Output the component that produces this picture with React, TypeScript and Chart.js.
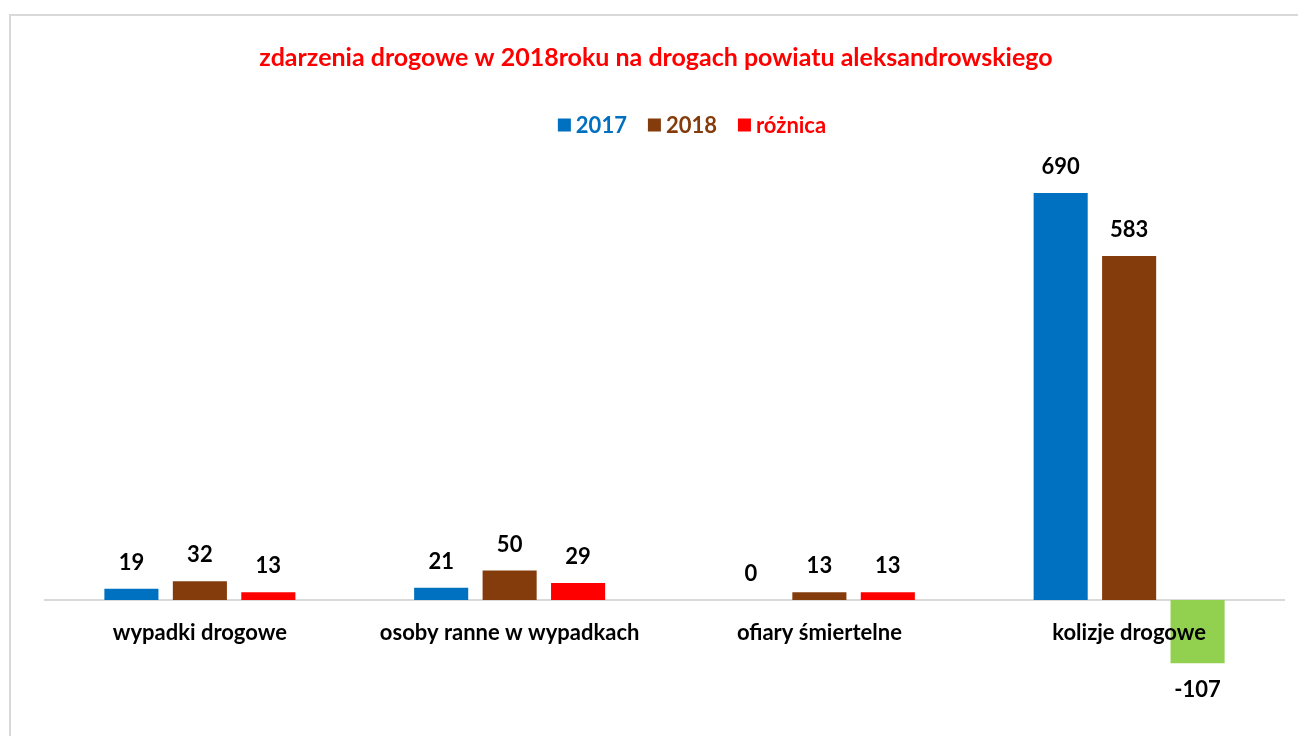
import React, { useEffect, useRef } from "react";
import { Chart, registerables } from "chart.js";

Chart.register(...registerables);

const TITLE = "zdarzenia drogowe w 2018roku na drogach powiatu aleksandrowskiego";
const categories = ["wypadki drogowe", "osoby ranne w wypadkach", "ofiary śmiertelne", "kolizje drogowe"];
const seriesNames = ["2017", "2018", "różnica"];
const values2017 = [19, 21, 0, 690];
const values2018 = [32, 50, 13, 583];
const valuesDiff = [13, 29, 13, -107];
const yMin = -200;
const yMax = 750;

const BLUE = "#0070C0";
const BROWN = "#843C0C";
const RED = "#FF0000";
const GREEN = "#92D050";
const FONT = "Lato, 'Open Sans', sans-serif";

const titlePlugin = {
  id: "customTitle",
  afterDraw(chart: any) {
    const ctx = chart.ctx;
    ctx.save();
    ctx.font = `bold 25px ${FONT}`;
    ctx.fillStyle = RED;
    ctx.textAlign = "center";
    ctx.textBaseline = "middle";
    ctx.fillText(TITLE, 656, 58);
    ctx.restore();
  },
};

const legendPlugin = {
  id: "customLegend",
  afterDraw(chart: any) {
    const ctx = chart.ctx;
    const items = chart.data.datasets.map((d: any) => ({ text: d.label, color: d.legendColor }));
    ctx.save();
    ctx.font = `bold 22px ${FONT}`;
    const box = 13;
    const gapText = 5;
    const gapItem = 21;
    let total = 0;
    const widths = items.map((it: any) => ctx.measureText(it.text).width);
    widths.forEach((w: number, i: number) => {
      total += box + gapText + w + (i < items.length - 1 ? gapItem : 0);
    });
    let x = 692 - total / 2;
    const y = 125;
    ctx.textBaseline = "middle";
    ctx.textAlign = "left";
    items.forEach((it: any, i: number) => {
      ctx.fillStyle = it.color;
      ctx.fillRect(x, y - box / 2, box, box);
      x += box + gapText;
      ctx.fillText(it.text, x, y + 1);
      x += widths[i] + gapItem;
    });
    ctx.restore();
  },
};

const labelPlugin = {
  id: "valueLabels",
  afterDatasetsDraw(chart: any) {
    const ctx = chart.ctx;
    ctx.save();
    ctx.font = `bold 22px ${FONT}`;
    ctx.fillStyle = "#000000";
    ctx.textAlign = "center";
    ctx.textBaseline = "middle";
    chart.data.datasets.forEach((ds: any, di: number) => {
      const meta = chart.getDatasetMeta(di);
      meta.data.forEach((el: any, i: number) => {
        const v = ds.data[i];
        const y = v < 0 ? el.y + 27 : el.y - 26;
        ctx.fillText(String(v), el.x, y);
      });
    });
    ctx.restore();
  },
};

export default function App() {
  const ref = useRef<HTMLCanvasElement | null>(null);
  useEffect(() => {
    document.body.style.margin = "0";
    if (!ref.current) return;
    const chart = new Chart(ref.current, {
      type: "bar",
      data: {
        labels: categories,
        datasets: [
          { label: seriesNames[0], data: values2017, backgroundColor: BLUE, legendColor: BLUE } as any,
          { label: seriesNames[1], data: values2018, backgroundColor: BROWN, legendColor: BROWN } as any,
          {
            label: seriesNames[2],
            data: valuesDiff,
            backgroundColor: valuesDiff.map((v) => (v < 0 ? GREEN : RED)),
            legendColor: RED,
          } as any,
        ],
      },
      options: {
        animation: false,
        responsive: false,
        maintainAspectRatio: false,
        layout: { padding: { left: 45, right: 14, top: 157.6, bottom: 18 } },
        categoryPercentage: 0.663,
        barPercentage: 0.79,
        plugins: {
          legend: { display: false },
          title: { display: false },
          tooltip: { enabled: false },
        },
        scales: {
          x: {
            position: { y: 0 } as any,
            grid: { display: false },
            border: { display: true, color: "#D9D9D9", width: 2 },
            ticks: {
              z: 2,
              color: "#000000",
              font: { family: FONT, size: 22, weight: "bold" },
              padding: 12,
              maxRotation: 0,
              autoSkip: false,
            },
          },
          y: {
            display: false,
            min: yMin,
            max: yMax,
          },
        },
      } as any,
      plugins: [labelPlugin, titlePlugin, legendPlugin],
    });
    return () => chart.destroy();
  }, []);
  return (
    <div style={{ position: "relative", width: 1298, height: 736, overflow: "hidden", background: "#fff" }}>
      <div
        style={{
          position: "absolute",
          left: 9,
          top: 14,
          width: 1320,
          height: 760,
          border: "2px solid #D9D9D9",
          boxSizing: "border-box",
        }}
      />
      <canvas ref={ref} width={1298} height={736} style={{ position: "absolute", left: 0, top: 0, width: 1298, height: 736 }} />
    </div>
  );
}
